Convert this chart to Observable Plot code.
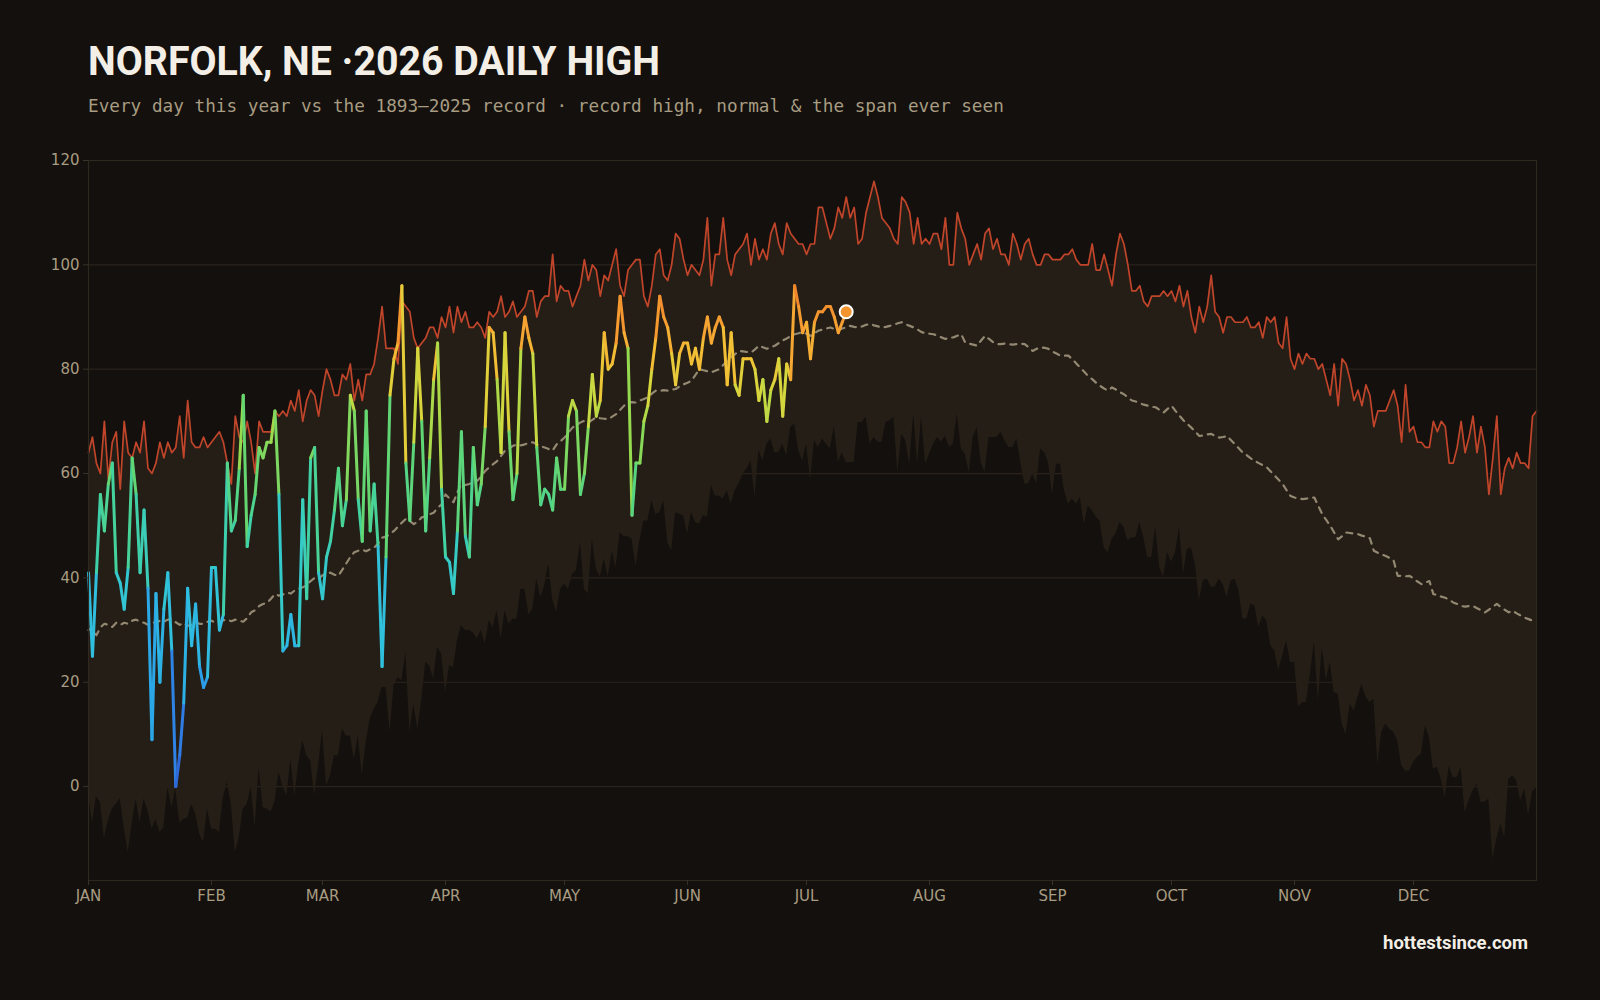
<!DOCTYPE html>
<html>
<head>
<meta charset="utf-8">
<script src="https://cdn.jsdelivr.net/npm/d3@7"></script>
<script src="https://cdn.jsdelivr.net/npm/@observablehq/plot@0.6"></script>
<style>
  html, body { margin: 0; padding: 0; background: #13100d; }
  body { width: 1600px; height: 1000px; position: relative; overflow: hidden; }
  #title { position: absolute; left: 88px; top: 38px; font-family: Roboto, "Noto Sans", sans-serif; font-weight: 700; font-size: 40px; line-height: 48px; color: #f3efe6; white-space: nowrap; transform-origin: 0 50%; }
  #subtitle { position: absolute; left: 88px; top: 95px; font-family: "DejaVu Sans Mono", monospace; font-size: 17.7px; line-height: 22px; color: #a89c82; white-space: nowrap; }
  #chart { position: absolute; left: 0; top: 130px; }
  #caption { position: absolute; right: 72px; top: 932px; font-family: Roboto, "Noto Sans", sans-serif; font-weight: 700; font-size: 18.5px; line-height: 22px; color: #f3efe6; }
</style>
</head>
<body>
<div id="title">NORFOLK, NE ·2026 DAILY HIGH</div>
<div id="subtitle">Every day this year vs the 1893–2025 record · record high, normal &amp; the span ever seen</div>
<div id="chart"></div>
<div id="caption">hottestsince.com</div>
<script>
// ---- tick labels ----
const monthStarts = [0, 31, 59, 90, 120, 151, 181, 212, 243, 273, 304, 334];
const monthLabels = ["JAN","FEB","MAR","APR","MAY","JUN","JUL","AUG","SEP","OCT","NOV","DEC"];
const tempTicks = [0, 20, 40, 60, 80, 100, 120];

// ---- record high by day of year (°F) ----
const recordHigh = [
  64,67,62,60,70,59,66,68,57,70, 64,63,66,64,70,61,60,62,66,63,
  66,64,65,71,63,74,66,65,65,67, 65,66,67,68,66,62,58,71,67,66,
  70,66,60,70,68,68,68,72,71,72, 71,74,72,76,70,74,76,75,71,76,
  80,78,75,75,79,78,81,74,78,74, 79,79,81,86,92,84,84,84,81,93,
  92,91,86,84,85,86,88,88,86,90, 88,92,87,92,89,91,88,88,89,88,
  86,91,90,91,94,90,91,93,90,91, 92,95,95,90,93,94,94,102,93,96,
  95,95,92,94,96,101,97,100,99,94, 98,97,100,103,96,94,99,100,101,101,
  94,92,96,102,103,98,97,100,106,105, 101,98,100,99,98,101,109,96,102,102,
  109,101,98,102,103,104,106,100,105,101, 103,101,106,108,104,102,108,106,105,104,
  104,102,104,104,111,111,108,105,107,111, 109,113,109,111,104,105,110,113,116,113,
  109,108,107,105,104,113,112,110,104,109, 104,105,104,106,106,103,109,100,100,110,
  107,105,100,102,104,101,106,107,103,105, 102,102,100,106,104,101,104,105,102,100,
  100,102,102,101,101,101,102,102,103,101, 100,100,100,104,99,99,102,99,96,102,
  106,104,100,95,95,96,93,92,94,94, 94,95,94,95,93,96,92,95,90,87,
  92,89,92,98,91,90,87,90,90,89, 89,89,90,88,88,89,86,90,89,90,
  85,84,90,82,80,83,81,83,82,82, 80,81,78,75,81,73,82,81,78,74,
  76,73,77,75,69,72,72,72,74,76, 73,66,77,68,69,66,66,65,65,70,
  68,70,69,62,62,65,70,64,67,71, 64,69,65,56,63,71,56,61,63,61,
  64,62,62,61,71,72
];

// ---- record low by day of year (°F) ----
const recordLow = [
  -1.5,-7,-2,-3,-10,-6.6,-4.3,-3.4,-2.4,-7.9, -12.7,-7.2,-2.4,-7,-2.4,-4.7,-8.2,-6.3,-8.8,-7.9,
  -0.2,-4,-0.5,-7,-6.3,-6,-3.4,-5.3,-9.1,-10.7, -4.3,-8.2,-8.2,-8.8,-2.1,0.8,-3.4,-12.7,-9.8,-4.3,
  -3.4,-0.2,-7.9,3.6,-4,-4.3,-4.9,-3,2.7,0.1, -1.8,5.2,-1.8,4.3,8.8,5.9,4.9,-1.8,4,10.7,
  0.1,2.1,5.9,5.9,11,9.7,9.7,5.2,9.7,2.1, 8.4,12.9,14.8,16.1,19,19,10.4,19.3,20.9,20.3,
  25.7,10.4,15.8,11,16.4,23.8,23.1,20.6,26.7,25.4, 18,23.1,22.8,27.9,30.8,29.9,29.9,29.5,28.3,29.9,
  27.3,31.8,30.5,33.7,28.3,33.7,31.1,32.1,32.1,37.8, 37.8,33,34,39.8,36.2,38.5,42.6,35.9,33.4,37.8,
  38.8,37.8,40.7,41.4,46.8,37.8,36.9,47.4,41.7,40.1, 43.6,40.1,45,42,48.7,47.9,47.9,47.4,42.3,47.1,
  50.9,50.9,54.8,52.2,52.5,54.8,46.8,45.2,52.5,52.2, 51.9,48.4,52.5,50.6,50.3,51.9,51.6,57.7,55.7,55.7,
  55.1,56.7,54.1,56.7,58,59.9,60.9,62.4,55.4,64.4, 62.4,65.6,66.6,64,64,65.6,63.4,68.8,69.5,64.4,
  62.4,65.6,58.6,66.3,65,66.6,65.6,64.7,69,62.1, 64,62.1,62.1,62.1,69.8,69.8,70.8,65.6,66.9,66,
  66,69.8,70.1,70.8,60.2,67.6,66.3,61.8,71.4,61.8, 70.8,61.8,63.7,65.6,66.9,66,67.2,65,65.6,71.4,
  64.7,63.7,60.2,66.9,68.8,62.1,60.2,66.9,66.9,66.9, 67.9,66.3,65,65,66.6,62.1,58,58,59.9,58,
  64.7,64,62.1,56,61.8,61.8,56.7,54.1,55.1,54.1, 55.4,50.3,53.8,52.9,51.6,50.9,45.8,44.8,47.4,48.4,
  50.6,49.7,47.1,47.7,47.7,50.6,47.7,43.9,43.9,49.7, 42,40.1,44.8,43,44.8,49.7,40.7,45.5,45.8,42.6,
  35.6,39.4,39.8,38.2,38.2,39.8,38.8,36.2,39.4,39.8, 37.5,32.1,32.1,35,34.6,30.5,32.7,31.8,27,26,
  22.2,25.1,27.9,23.8,23.8,15.2,16.1,16.1,21.5,27.6, 16.4,26.7,20.3,23.8,18,17.7,12,10,15.8,14.5,
  17.1,19.6,17.1,16.1,16.7,4.3,10.4,12,11,10.4, 8.8,4,3,3,4.6,5.6,6.2,11.6,9.4,3.3,
  3.7,1.4,-2.1,4,1.7,1.7,3.7,-5,-2.7,-0.8, 0.5,-3,-3,-2.4,-13.9,-10.1,-7.2,-9.8,1.4,2.1,
  1.1,-2.7,-0.5,-5.6,-1.1,-0.2
];

// ---- normal high by day of year (°F) ----
const normalHigh = [
  30,30.5,29,30.5,31.2,31,30.6,31.4,31,31.4, 31.2,31.8,32,31.6,31.4,31,31.5,31.4,31.8,31.6,
  32,32.1,31.5,31,31.4,30.8,31,31.5,31.2,31.2, 31.6,31.8,31.4,31.5,31.9,32,31.7,32,31.8,31.6,
  32.3,33.4,33.8,34.6,35,35.2,36,36.9,36.6,36.8, 37.2,37,37.6,37.9,38.2,38.6,39.4,40,39.8,40.5,
  40.8,41,40.6,40.4,41.6,42.8,44,44.9,45.2,45.4, 45.1,45.5,45.8,46.6,47.7,47.9,48.4,49,49.8,50.6,
  51.3,50.9,50.3,50.8,51.6,51.8,52.2,52.5,53.4,54.1, 56,55.2,54.5,56.4,58,57.8,58,58.3,58.6,59.4,
  60.5,61.2,61.8,62.4,63.4,64.4,64.8,65.3,65.6,65.4, 65.6,65.9,66,65.6,65.2,65,64.7,64.4,65.6,66.2,
  66.9,67.9,68.8,69.3,69.8,70.1,69.8,70.3,70.8,70.6, 70.5,70.4,70.9,71.4,72.2,73,73.6,73.7,73.6,74,
  74.3,74.6,75.3,75.9,75.8,76,75.9,76.1,76.2,76.7, 77.1,77.4,77.8,78.9,80,79.8,79.6,79.4,79.7,80,
  80.8,81.6,82.3,82.9,83.5,83.4,83.3,83.2,83.8,84.5, 84.2,83.9,84.2,84.5,85,85.5,85.9,86.3,86.7,86.9,
  87.1,86.8,86.4,86.9,87.4,87.6,87.8,88,87.7,87.5, 87.8,88,88.3,88.1,88,88.2,88.5,88.7,88.4,88.2,
  88,88.1,88.3,88.5,88.8,89,88.6,88.3,88,87.6, 87.1,86.9,86.8,86.7,86.4,86.1,85.8,86,86.1,86.4,
  86.7,85.1,84.9,84.7,84.5,85.5,86.4,85.8,85.2,84.8, 84.8,84.9,84.8,84.7,84.8,84.9,84.8,84.2,83.5,83.9,
  84.2,84.1,83.9,83.4,83,82.6,82.6,82.6,81.9,81.1, 80.3,79.5,78.7,78.1,77.4,76.8,76.3,75.9,76.5,76.1,
  75.6,75.2,74.6,74,73.8,73.5,73.2,73,72.8,72.7, 72.2,71.7,72.4,73,72,71.1,70.2,69.5,68.8,68,
  67.2,67.3,67.5,67.6,67.2,66.9,67,67.2,66.4,65.6, 64.8,64,63.5,62.9,62.4,62,61.6,61.2,60.4,59.6,
  58.8,58,56.8,55.7,55.4,55.2,55.1,55.2,55.3,55.4, 53.8,52.2,51.1,50,48.7,47.4,48,48.7,48.6,48.5,
  48.4,48.1,47.9,47.6,45.2,44.8,44.5,44.2,43.8,43.3, 40.4,40.4,40.3,40.4,39.9,39.3,38.8,39.1,39.4,36.9,
  36.7,36.4,36.2,35.8,35.3,35,34.6,34.5,34.6,34.6, 34.2,33.8,33.4,33.9,34.5,35,34.4,33.9,33.4,33.7,
  33.2,32.8,32.4,32.1,31.8,32
];

// ---- 2026 observed daily high (°F), Jan 1 – Jul 11 ----
const high2026 = [
  41,25,41,56,49,58,62,41,39,34, 42,63,56,41,53,38,9,37,20,34,
  41,26,0,6,16,38,27,35,23,19, 21,42,42,30,33,62,49,51,61,75,
  46,52,56,65,63,66,66,72,56,26, 27,33,27,27,55,36,63,65,41,36,
  44,47,53,61,50,55,75,72,55,47, 72,49,58,46,23,44,75,82,85,96,
  62,51,66,84,70,49,63,78,85,57, 44,43,37,49,68,48,44,65,54,58,
  69,88,87,78,64,87,68,55,60,84, 90,86,83,65,54,57,56,53,63,57,
  57,71,74,72,56,60,69,79,71,74, 87,80,81,85,94,87,84,52,62,62,
  70,73,80,86,94,90,88,83,77,83, 85,85,81,84,80,86,90,85,88,90,
  88,77,87,77,75,82,82,82,80,74, 78,70,76,78,82,71,81,78,96,92,
  87,89,82,89,91,91,92,92,90,87, 89,91
];

// ---- colour ramp for the 2026 line ----
const colorStops = [0, 12, 22, 32, 42, 52, 60, 68, 76, 82, 88, 94, 100];
const colorRamp = ["#2d63d6","#2f7fe3","#2ba3e8","#2fbde0","#35cbc8","#45d39a","#63d672","#96da50","#d4d83e","#f2c136","#f6a232","#f0852c","#ea6a28"];

// ---- build tables from the arrays ----
const days = recordHigh.map((_, i) => i);
const span = days.map(d => ({day: d, lo: recordLow[d], hi: recordHigh[d], normal: normalHigh[d]}));
const segments = high2026.slice(1).map((v, i) => ({
  x1: i, y1: high2026[i], x2: i + 1, y2: v, t: (high2026[i] + v) / 2
}));
const lastIdx = high2026.length - 1;
const latest = [{day: lastIdx, temp: high2026[lastIdx]}];

const axisColor = "#a89c82";

const chart = Plot.plot({
  width: 1600,
  height: 800,
  marginTop: 30,
  marginBottom: 50,
  marginLeft: 88,
  marginRight: 64,
  style: {background: "transparent", color: axisColor, fontFamily: "'DejaVu Sans', sans-serif", fontSize: "15px"},
  x: {domain: [0, 365], label: null},
  y: {domain: [-18, 120], label: null},
  color: {type: "linear", domain: colorStops, range: colorRamp, interpolate: "rgb"},
  marks: [
    Plot.gridY(tempTicks, {stroke: "#2c221c", strokeOpacity: 1, strokeWidth: 1.2}),
    Plot.areaY(span, {x: "day", y1: "lo", y2: "hi", fill: "#251e16", curve: "linear"}),
    Plot.lineY(span, {x: "day", y: "hi", stroke: "#c0452a", strokeWidth: 1.7}),
    Plot.lineY(span, {x: "day", y: "normal", stroke: "#a0937b", strokeWidth: 2.2, strokeDasharray: "6,6", strokeOpacity: 0.9}),
    Plot.link(segments, {x1: "x1", y1: "y1", x2: "x2", y2: "y2", stroke: "t", strokeWidth: 3, strokeLinecap: "round"}),
    Plot.dot(latest, {x: "day", y: "temp", r: 6.5, fill: d => d.temp, stroke: "#ffffff", strokeWidth: 2}),
    Plot.frame({stroke: "#2e2820", strokeWidth: 1.2}),
    Plot.axisY(tempTicks, {tickSize: 5, tickPadding: 4, stroke: "#3a3228", color: axisColor}),
    Plot.axisX(monthStarts, {tickSize: 5, tickPadding: 5, stroke: "#3a3228", color: axisColor, tickFormat: (d) => monthLabels[monthStarts.indexOf(d)]})
  ]
});
document.getElementById("chart").appendChild(chart);

// fit the title to the reference width
const t = document.getElementById("title");
const w = t.getBoundingClientRect().width;
t.style.transform = `scaleX(${(572 / w).toFixed(4)})`;
</script>
</body>
</html>
